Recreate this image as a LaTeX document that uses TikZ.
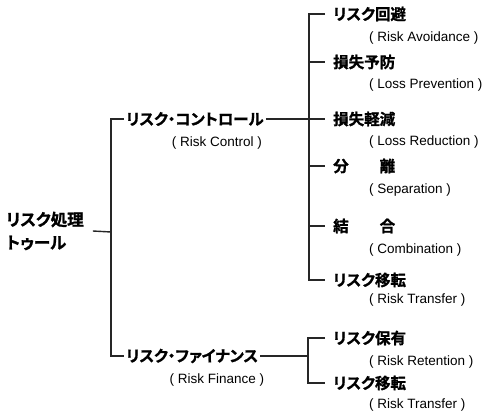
\documentclass[tikz,border=0pt]{standalone}
\usepackage{fontspec}
\setmainfont{Liberation Sans}
\newfontfamily\jpb{Noto Sans CJK JP}[UprightFont={* Bold},FakeBold=1.2,RawFeature=+palt]
\begin{document}
\begin{tikzpicture}[x=1pt,y=-1pt,
  jp/.style={font=\jpb\fontsize{15.5}{17}\selectfont,inner sep=0pt,anchor=west},
  en/.style={font=\fontsize{13.5}{15}\selectfont,inner sep=0pt,anchor=west},
  ln/.style={line width=1.4pt,draw=black!85}]
\useasboundingbox (0,0) rectangle (486,417);
% root
\node[jp,font=\jpb\fontsize{16.5}{23}\selectfont,align=left] (root) at (6,231) {リスク処理\\トゥール};
% level 1
\node[jp] (rc) at (126,119) {リスク・コントロール};
\node[en,anchor=center] (rce) at (217,143) {( Risk Control )};
\node[jp] (rf) at (126,356) {リスク・ファイナンス};
\node[en,anchor=center] (rfe) at (217,380) {( Risk Finance )};
% leaves
\node[jp] (l1) at (333,14) {リスク回避};
\node[en] (l1e) at (369,38) {( Risk Avoidance )};
\node[jp] (l2) at (333,62) {損失予防};
\node[en] (l2e) at (369,85) {( Loss Prevention )};
\node[jp] (l3) at (333,119) {損失軽減};
\node[en] (l3e) at (369,142) {( Loss Reduction )};
\node[jp] (l4) at (333,166) {分\hspace{2em}離};
\node[en] (l4e) at (369,190) {( Separation )};
\node[jp] (l5) at (333,226) {結\hspace{2em}合};
\node[en] (l5e) at (369,250) {( Combination )};
\node[jp] (l6) at (333,280) {リスク移転};
\node[en] (l6e) at (369,300) {( Risk Transfer )};
\node[jp] (l7) at (333,338) {リスク保有};
\node[en] (l7e) at (369,362) {( Risk Retention )};
\node[jp] (l8) at (333,383) {リスク移転};
\node[en] (l8e) at (369,405) {( Risk Transfer )};
% buses
\coordinate (b0) at (111,232);
\coordinate (b1) at (309,119);
\coordinate (b2) at (308,356);
\draw[ln] ([xshift=9pt]root.east) -- (b0);
\draw[ln] ([xshift=-2pt]rc.west) -| (b0) |- ([xshift=-2pt]rf.west);
\draw[ln] ([xshift=2pt]rc.east) -- (b1);
\draw[ln] ([xshift=2pt]rf.east) -- (b2);
\draw[ln] ([xshift=-8pt]l1.west) -| (b1) |- ([xshift=-8pt]l6.west);
\foreach \n in {l2,l3,l4,l5} \draw[ln] (b1 |- \n.west) -- ([xshift=-8pt]\n.west);
\draw[ln] ([xshift=-8pt]l7.west) -| (b2) |- ([xshift=-8pt]l8.west);
\end{tikzpicture}
\end{document}
